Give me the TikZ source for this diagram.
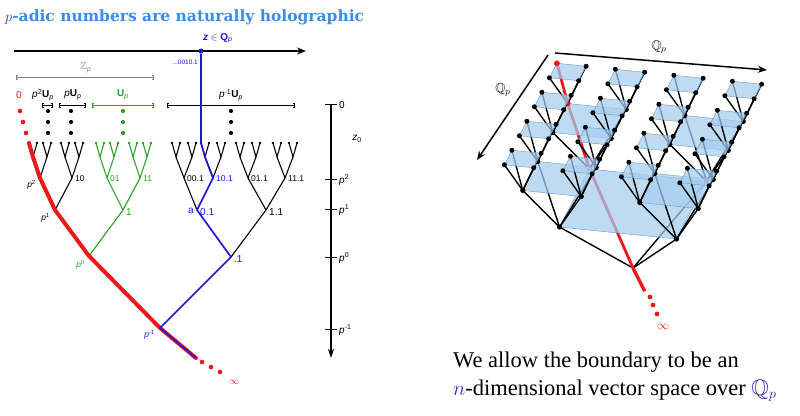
\documentclass[tikz,border=0pt]{standalone}
\usepackage{fontspec}
\usepackage{amssymb}
\setmainfont{Liberation Serif}
\newfontfamily\lblfont{Liberation Sans}
\newfontfamily\headfont{DejaVu Serif}
\usetikzlibrary{arrows.meta}

\definecolor{headblue}{RGB}{58,140,230}
\definecolor{mathblue}{RGB}{45,45,185}
\definecolor{pathblue}{RGB}{25,25,215}
\definecolor{pathred}{RGB}{235,25,25}
\definecolor{subgreen}{RGB}{40,160,40}
\definecolor{planeblue}{RGB}{165,205,240}
\definecolor{planeedge}{RGB}{110,150,190}

\newcommand\itp{\textit{p}}

\begin{document}
\begin{tikzpicture}[x=1pt, y=-1pt,
    branch/.style={line width=1.1pt, line cap=round, line join=round},
    lbl/.style={font=\lblfont\fontsize{8.5}{10}\selectfont, inner sep=1pt},
    biglbl/.style={font=\lblfont\fontsize{10}{12}\selectfont, inner sep=1pt},
    redpath/.style={line width=4pt, pathred, line cap=round, line join=round},
    bluepath/.style={line width=1.7pt, pathblue, line join=round},
    brk/.style={{Bracket[width=5pt,length=2pt]}-{Bracket[width=5pt,length=2pt]}, line width=0.8pt},
    plane/.style={fill=planeblue, fill opacity=0.72, draw=planeedge, line width=0.4pt},
    rib/.style={line width=1.4pt, line cap=round},
    redrib/.style={line width=2.8pt, pathred, line cap=round},
  ]
  \useasboundingbox (0,0) rectangle (800,415);

  % title
  \node[anchor=base west, inner sep=0, text=headblue,
    font=\headfont\bfseries\fontsize{15.5}{18}\selectfont] (title) at (5,21)
    {\textcolor{mathblue}{$p$}-adic numbers are naturally holographic};

  % boundary line
  \coordinate (bl) at (14,51);
  \coordinate (br) at (306,51);
  \draw[line width=1.6pt, -{Stealth[length=9pt,width=7pt]}] (bl) -- (br);
  \node[circle, fill=pathblue, inner sep=0, minimum size=5pt] (zdot) at (201,51) {};
  \node[biglbl, text=pathblue, anchor=west] (zlab) at (202,38) {\textbf{\textit{z} $\in$ Q}\textsubscript{\textit{p}}};
  \node[lbl, text=pathblue, font=\lblfont\fontsize{6.5}{7}\selectfont, anchor=east] (zdig) at (199,62) {...0010.1};

  % intervals
  \coordinate (zp1) at (16,77);
  \coordinate (zp2) at (154,77);
  \draw[brk, gray] (zp1) -- (zp2);
  \node[biglbl, text=gray] (zplab) at (86,68) {$\mathbb{Z}$\textsubscript{\itp}};
  \node[biglbl, text=pathred] (zero) at (19,95) {0};
  \node[biglbl] (u2lab) at (43,95) {\itp\textsuperscript{2}\textbf{U}\textsubscript{\itp}};
  \node[biglbl] (u1lab) at (73,95) {\itp\textbf{U}\textsubscript{\itp}};
  \node[biglbl, text=subgreen] (u0lab) at (123,95) {\textbf{U}\textsubscript{\itp}};
  \node[biglbl] (umlab) at (231,95) {\itp\textsuperscript{-1}\textbf{U}\textsubscript{\itp}};
  \foreach \xa/\xb/\col [count=\k] in {42/53/black, 59/86/black, 92/154/subgreen, 167/295/black} {
    \coordinate (ua\k) at (\xa,105);
    \coordinate (ub\k) at (\xb,105);
    \draw[brk, \col] (ua\k) -- (ub\k);
  }
  % dots
  \foreach \y [count=\k] in {111,122,133} {
    \fill[pathred] (17+3*\k,\y) circle (2.3pt);
    \fill (48,\y) circle (2.1pt);
    \fill (71,\y) circle (2.1pt);
    \fill[subgreen] (123,\y) circle (2.1pt);
    \fill (231,\y) circle (2.1pt);
  }

  % scale
  \coordinate (s0) at (331,104);
  \coordinate (send) at (331,358);
  \draw[line width=1.5pt, -{Stealth[length=9pt,width=6pt]}] (s0) -- (send);
  \foreach \y/\t [count=\k] in {104/0, 179/{\itp\textsuperscript{2}}, 209/{\itp\textsuperscript{1}},
      257/{\itp\textsuperscript{0}}, 329/{\itp\textsuperscript{-1}}} {
    \draw[line width=1pt] (325,\y) -- (337,\y);
    \node[biglbl, anchor=west] (tick\k) at (338,\y+1) {\t};
  }
  \node[biglbl] (zzero) at (357,139) {\textit{z}\textsubscript{0}};

  % tree, top levels
  \foreach \nm/\x/\s/\col in {a/40/7/black, b/72/7/black, c/107/7/subgreen, d/140/7/subgreen,
      e/184/8/black, f/213/8/black, g/248/8/black, h/285/8/black} {
    \coordinate (n\nm) at (\x,178);
    \coordinate (f\nm1) at (\x-\s,157);
    \coordinate (f\nm2) at (\x+\s,157);
    \coordinate (l\nm1a) at (\x-\s-4,143);
    \coordinate (l\nm1b) at (\x-\s+4,143);
    \coordinate (l\nm2a) at (\x+\s-4,143);
    \coordinate (l\nm2b) at (\x+\s+4,143);
    \draw[branch, \col] (f\nm1) -- (n\nm) -- (f\nm2);
    \draw[branch, \col] (l\nm1a) -- (f\nm1) -- (l\nm1b);
    \draw[branch, \col] (l\nm2a) -- (f\nm2) -- (l\nm2b);
    \foreach \lf in {1a,1b,2a,2b}
      \fill[\col] (l\nm\lf) circle (1.4pt);
  }
  \coordinate (m1a) at (55,210);
  \coordinate (m1b) at (123,210);
  \coordinate (m1c) at (197,210);
  \coordinate (m1d) at (266,210);
  \coordinate (k0a) at (89,256);
  \coordinate (k0b) at (231,257);
  \coordinate (root) at (160,328);
  \coordinate (tailL) at (196,358);

  \draw[branch] (m1a) -- (nb);
  \draw[branch] (ne) -- (m1c);
  \draw[branch] (ng) -- (m1d) -- (nh);
  \draw[branch] (m1d) -- (k0b);
  \draw[branch, subgreen] (nc) -- (m1b) -- (nd);
  \draw[branch, subgreen] (m1b) -- (k0a);

  \draw[redpath] (la1a) -- (fa1) -- (na) -- (m1a) -- (k0a) -- (root) -- (tailL);
  \draw[bluepath] (zdot) -- (lf1a) -- (ff1) -- (nf) -- (m1c) -- (k0b) -- (root) -- (tailL);
  \foreach \x/\y in {202/362, 211/367, 220/372}
    \fill[pathred] (\x,\y) circle (2.3pt);

  % tree labels
  \node[lbl, anchor=east] (lp2) at (37,185) {\itp\textsuperscript{2}};
  \node[lbl, anchor=east] (lp1) at (51,218) {\itp\textsuperscript{1}};
  \node[lbl, anchor=east, text=subgreen] (lp0) at (86,265) {\itp\textsuperscript{0}};
  \node[lbl, anchor=east, text=pathblue] (lpm) at (156,335) {\itp\textsuperscript{-1}};
  \node[lbl, anchor=west] (l10) at (74,179) {10};
  \node[lbl, anchor=west, text=subgreen] (l01) at (109,179) {01};
  \node[lbl, anchor=west, text=subgreen] (l11) at (142,179) {11};
  \node[lbl, anchor=west] (l001) at (186,179) {00.1};
  \node[lbl, anchor=west, text=pathblue] (l101) at (215,179) {10.1};
  \node[lbl, anchor=west] (l011) at (250,179) {01.1};
  \node[lbl, anchor=west] (l111) at (287,179) {11.1};
  \node[biglbl, anchor=west, text=subgreen] (l1) at (125,212) {1};
  \node[biglbl, anchor=east, text=pathblue] (la) at (195,211) {a};
  \node[biglbl, anchor=west, text=pathblue] (l01b) at (199,212) {0.1};
  \node[biglbl, anchor=west] (l11b) at (268,212) {1.1};
  \node[biglbl, anchor=west, text=pathblue] (ldot1) at (233,259) {.1};
  \node[biglbl, text=pathred] (linfL) at (234,382) {$\infty$};

  % higher dimensional tree
  \coordinate (qa0) at (555,53);
  \coordinate (qa1) at (767,70);
  \coordinate (qb0) at (548,55);
  \coordinate (qb1) at (477,160);
  \draw[line width=1.5pt, -{Stealth[length=9pt,width=7pt]}] (qa0) -- (qa1);
  \draw[line width=1.5pt, -{Stealth[length=9pt,width=7pt]}] (qb0) -- (qb1);
  \node[font=\fontsize{13}{15}\selectfont, rotate=-5, inner sep=1pt] (qalab) at (659,47) {$\mathbb{Q}_p$};
  \node[font=\fontsize{13}{15}\selectfont, inner sep=1pt] (qblab) at (503,90) {$\mathbb{Q}_p$};

  \begin{scope}[shift={(633,268)}, x={(58.5pt,-6pt)}, y={(-15pt,-29pt)}, z={(0pt,1pt)}]
    \coordinate (r0) at (0,0,0);
    \coordinate (tailR) at (0.2,0,-22);
    \draw[line width=3.4pt, pathred] (r0) -- (tailR);
    % level 1
    \foreach \a in {-1,1} \foreach \b in {-1,1} {
      \coordinate (A\a\b) at (\a,\b,64);
      \draw[rib] (r0) -- (A\a\b);
    }
    \draw[redrib] (r0) -- (A-1-1);
    \filldraw[plane] (A-1-1) -- (A1-1) -- (A11) -- (A-11) -- cycle;
    \foreach \a in {-1,1} \foreach \b in {-1,1}
      \fill (A\a\b) circle (2.6pt);
    % level 2
    \foreach \a in {-1,1} \foreach \b in {-1,1} \foreach \c in {-1,1} \foreach \d in {-1,1} {
      \coordinate (B\a\b\c\d) at ({\a+0.5*\c},{\b+0.5*\d},112);
      \draw[rib] (A\a\b) -- (B\a\b\c\d);
    }
    \draw[redrib] (A-1-1) -- (B-1-1-1-1);
    \foreach \a in {-1,1} \foreach \b in {-1,1}
      \filldraw[plane] (B\a\b-1-1) -- (B\a\b1-1) -- (B\a\b11) -- (B\a\b-11) -- cycle;
    \foreach \a in {-1,1} \foreach \b in {-1,1} \foreach \c in {-1,1} \foreach \d in {-1,1}
      \fill (B\a\b\c\d) circle (2.6pt);
    \fill[pathred] (B-1-1-1-1) circle (2.7pt);
    % level 3
    \foreach \a in {-1,1} \foreach \b in {-1,1} \foreach \c in {-1,1} \foreach \d in {-1,1}
      \foreach \e in {-1,1} \foreach \f in {-1,1} {
        \coordinate (C\a\b\c\d\e\f) at ({\a+0.5*\c+0.25*\e},{\b+0.5*\d+0.25*\f},143.5);
        \draw[rib] (B\a\b\c\d) -- (C\a\b\c\d\e\f);
      }
    \draw[redrib] (B-1-1-1-1) -- (C-1-1-1-1-1-1);
    \foreach \a in {-1,1} \foreach \b in {-1,1} \foreach \c in {-1,1} \foreach \d in {-1,1}
      \filldraw[plane] (C\a\b\c\d-1-1) -- (C\a\b\c\d1-1) -- (C\a\b\c\d11) -- (C\a\b\c\d-11) -- cycle;
    \foreach \a in {-1,1} \foreach \b in {-1,1} \foreach \c in {-1,1} \foreach \d in {-1,1}
      \foreach \e in {-1,1} \foreach \f in {-1,1}
        \fill (C\a\b\c\d\e\f) circle (2.5pt);
    \fill[pathred] (C-1-1-1-1-1-1) circle (2.8pt);
  \end{scope}
  \foreach \x/\y in {650/297, 653/305, 657/314}
    \fill[pathred] (\x,\y) circle (2.4pt);
  \node[font=\fontsize{12}{14}\selectfont, text=pathred] (linfR) at (663,327) {$\infty$};

  % caption
  \node[anchor=base west, inner sep=0, font=\fontsize{22.5}{27}\selectfont] (cap1) at (453,367)
    {We allow the boundary to be an};
  \node[anchor=base west, inner sep=0, font=\fontsize{22.5}{27}\selectfont] (cap2) at (453,395)
    {\textcolor{mathblue}{$n$}-dimensional vector space over \textcolor{mathblue}{$\mathbb{Q}_p$}};
\end{tikzpicture}
\end{document}
